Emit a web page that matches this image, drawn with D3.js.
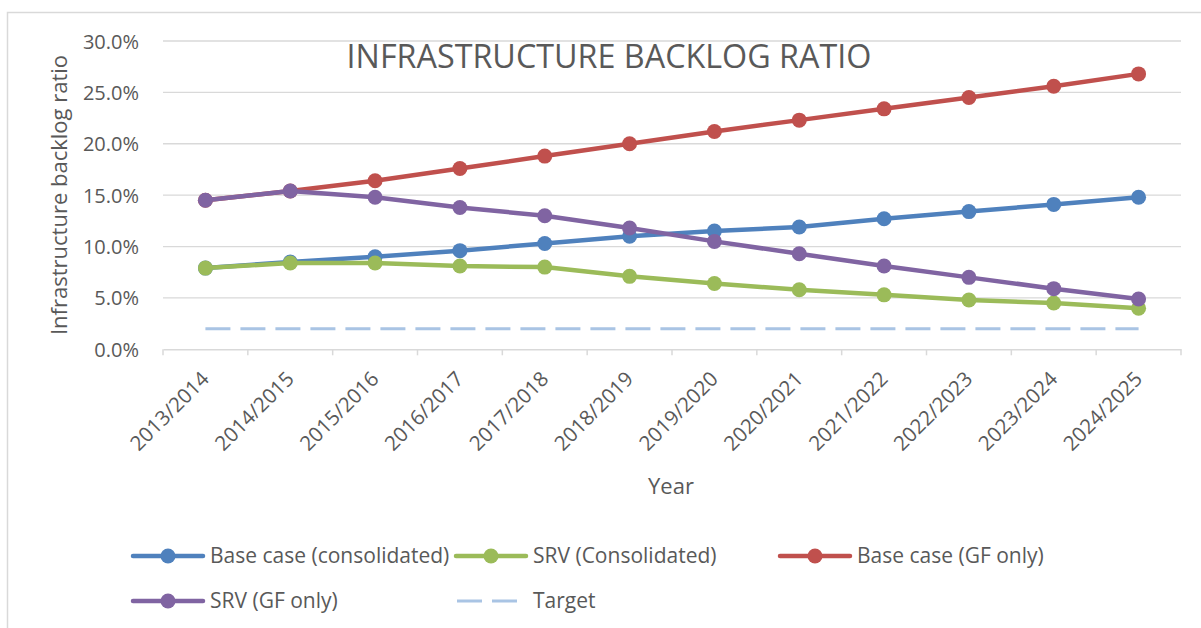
<!DOCTYPE html>
<html>
<head>
<meta charset="utf-8">
<script src="https://cdn.jsdelivr.net/npm/d3@7"></script>
<style>
  body { margin: 0; background: #fff; }
  text { font-family: "Open Sans", Lato, sans-serif; fill: #595959; }
</style>
</head>
<body>
<svg id="chart" width="1201" height="628"></svg>
<script>
// categories (financial years)
var years = ["2013/2014","2014/2015","2015/2016","2016/2017","2017/2018","2018/2019",
             "2019/2020","2020/2021","2021/2022","2022/2023","2023/2024","2024/2025"];

// series values, as fractions
var baseConsolidated = [0.079,0.085,0.090,0.096,0.103,0.110,0.115,0.119,0.127,0.134,0.141,0.148];
var srvConsolidated  = [0.079,0.084,0.084,0.081,0.080,0.071,0.064,0.058,0.053,0.048,0.045,0.040];
var baseGF           = [0.145,0.154,0.164,0.176,0.188,0.200,0.212,0.223,0.234,0.245,0.256,0.268];
var srvGF            = [0.145,0.154,0.148,0.138,0.130,0.118,0.105,0.093,0.081,0.070,0.059,0.049];
var target           = [0.02,0.02,0.02,0.02,0.02,0.02,0.02,0.02,0.02,0.02,0.02,0.02];

var yTicks = [0, 0.05, 0.10, 0.15, 0.20, 0.25, 0.30];

var series = [
  {name: "Base case (consolidated)", values: baseConsolidated, color: "#4f81bd"},
  {name: "SRV (Consolidated)", values: srvConsolidated, color: "#9bbb59"},
  {name: "Base case (GF only)", values: baseGF, color: "#c0504d"},
  {name: "SRV (GF only)", values: srvGF, color: "#8064a2"}
];

var svg = d3.select("#chart");

// outer chart border
svg.append("rect")
  .attr("x", 7.5).attr("y", 12.5)
  .attr("width", 1210).attr("height", 630)
  .attr("fill", "none").attr("stroke", "#d9d9d9").attr("stroke-width", 1.5);

var plotLeft = 163, plotRight = 1181, plotTop = 41, plotBottom = 349.3;

var x = d3.scaleBand().domain(years).range([plotLeft, plotRight]).padding(0);
var y = d3.scaleLinear().domain([0, 0.30]).range([plotBottom, plotTop]);
var cx = function(d, i) { return x(years[i]) + x.bandwidth() / 2; };

// gridlines
svg.append("g").selectAll("line")
  .data(yTicks.slice(1)).enter().append("line")
  .attr("x1", plotLeft).attr("x2", plotRight)
  .attr("y1", function(d) { return y(d); }).attr("y2", function(d) { return y(d); })
  .attr("stroke", "#d9d9d9").attr("stroke-width", 1.3);

// y axis labels
var yAxis = d3.axisLeft(y).tickValues(yTicks).tickFormat(d3.format(".1%")).tickSize(0).tickPadding(24);
var gy = svg.append("g").attr("transform", "translate(" + plotLeft + ",0)").call(yAxis);
gy.select(".domain").remove();
gy.selectAll("text").style("font-size", "20px").style("font-family", null).attr("fill", null).attr("dy", "0.35em");

// x axis
var xAxis = d3.axisBottom(x).tickSize(0).tickFormat("");
var gx = svg.append("g").attr("transform", "translate(0," + plotBottom + ")").call(xAxis);
gx.select(".domain").attr("stroke", "#d9d9d9").attr("stroke-width", 1.5);
gx.selectAll(".tick").remove();
var bounds = years.map(function(d) { return x(d); }).concat([plotRight]);
gx.selectAll("line.tk").data(bounds).enter().append("line").attr("class", "tk")
  .attr("x1", function(d) { return d; }).attr("x2", function(d) { return d; })
  .attr("y1", 0).attr("y2", 6)
  .attr("stroke", "#d9d9d9").attr("stroke-width", 1.5);

svg.append("g").selectAll("text")
  .data(years).enter().append("text")
  .attr("text-anchor", "end")
  .attr("transform", function(d) {
    return "translate(" + (x(d) + x.bandwidth() / 2 + 5) + "," + (plotBottom + 31) + ") rotate(-45)";
  })
  .style("font-size", "20.5px")
  .text(function(d) { return d; });

// titles
svg.append("text").attr("x", 609).attr("y", 68).attr("text-anchor", "middle")
  .style("font-size", "32.3px").text("INFRASTRUCTURE BACKLOG RATIO");
svg.append("text").attr("transform", "translate(67,195) rotate(-90)").attr("text-anchor", "middle")
  .style("font-size", "22px").text("Infrastructure backlog ratio");
svg.append("text").attr("x", 671).attr("y", 494).attr("text-anchor", "middle")
  .style("font-size", "22px").text("Year");

// target line
var line = d3.line().x(cx).y(function(d) { return y(d); });
svg.append("path").datum(target)
  .attr("d", line).attr("fill", "none")
  .attr("stroke", "#a9c4e4").attr("stroke-width", 3)
  .attr("stroke-dasharray", "25,10");

// series lines and markers
series.forEach(function(s) {
  var g = svg.append("g");
  g.append("path").datum(s.values)
    .attr("d", line).attr("fill", "none")
    .attr("stroke", s.color).attr("stroke-width", 4.5)
    .attr("stroke-linejoin", "round").attr("stroke-linecap", "round");
  g.selectAll("circle").data(s.values).enter().append("circle")
    .attr("cx", cx).attr("cy", function(d) { return y(d); })
    .attr("r", 7.5).attr("fill", s.color);
});

// legend
var legendItems = [
  {name: series[0].name, color: series[0].color, x: 133, y: 556},
  {name: series[1].name, color: series[1].color, x: 456, y: 556},
  {name: series[2].name, color: series[2].color, x: 780, y: 556},
  {name: series[3].name, color: series[3].color, x: 133, y: 601},
  {name: "Target", color: "#a9c4e4", x: 457, y: 601, dash: true}
];
var lw = 70;
var lg = svg.append("g").selectAll("g").data(legendItems).enter().append("g")
  .attr("transform", function(d) { return "translate(" + d.x + "," + d.y + ")"; });
lg.append("line")
  .attr("x1", 0).attr("x2", function(d) { return d.dash ? 60 : lw; })
  .attr("stroke", function(d) { return d.color; })
  .attr("stroke-width", function(d) { return d.dash ? 3 : 4.5; })
  .attr("stroke-linecap", function(d) { return d.dash ? "butt" : "round"; })
  .attr("stroke-dasharray", function(d) { return d.dash ? "25,10" : null; });
lg.filter(function(d) { return !d.dash; }).append("circle")
  .attr("cx", lw / 2).attr("r", 7.5)
  .attr("fill", function(d) { return d.color; });
lg.append("text")
  .attr("x", function(d) { return d.dash ? 76 : lw + 7; }).attr("y", 0).attr("dy", "0.35em")
  .style("font-size", "21px")
  .text(function(d) { return d.name; });
</script>
</body>
</html>
